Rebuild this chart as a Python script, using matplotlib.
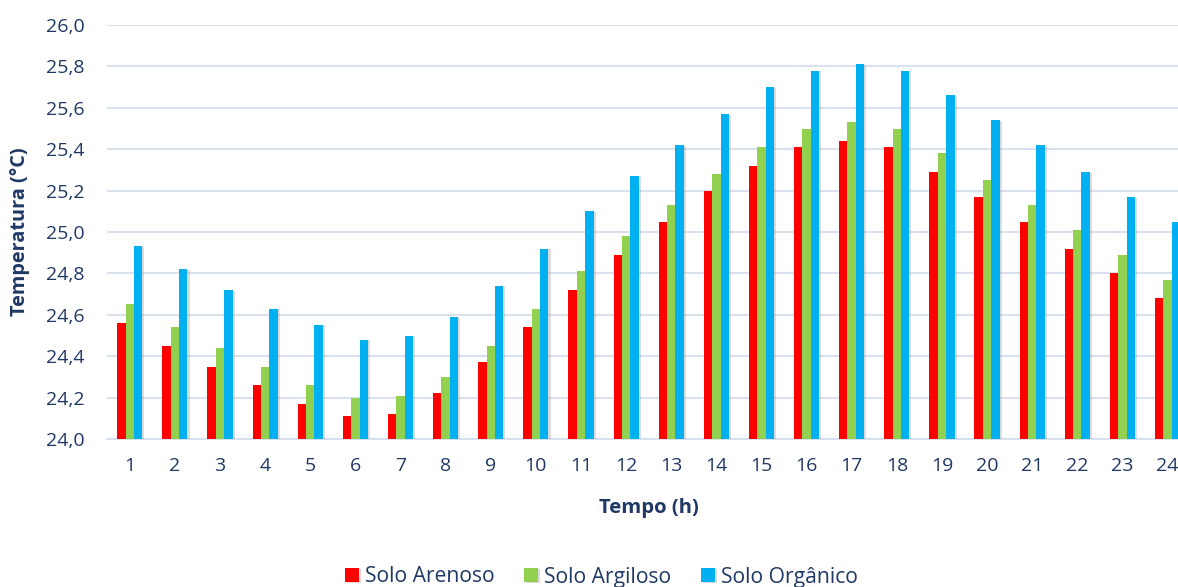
import numpy as np
import matplotlib
matplotlib.use("Agg")
import matplotlib.pyplot as plt
from matplotlib.ticker import FuncFormatter, MultipleLocator
import matplotlib.patheffects as pe

# Hourly soil temperature (°C) for three soil types
hours = list(range(1, 25))
solo_arenoso = [24.56, 24.45, 24.35, 24.26, 24.17, 24.11, 24.12, 24.22, 24.37, 24.54,
                24.72, 24.89, 25.05, 25.20, 25.32, 25.41, 25.44, 25.41, 25.29, 25.17,
                25.05, 24.92, 24.80, 24.68]
solo_argiloso = [24.65, 24.54, 24.44, 24.35, 24.26, 24.20, 24.21, 24.30, 24.45, 24.63,
                 24.81, 24.98, 25.13, 25.28, 25.41, 25.50, 25.53, 25.50, 25.38, 25.25,
                 25.13, 25.01, 24.89, 24.77]
solo_organico = [24.93, 24.82, 24.72, 24.63, 24.55, 24.48, 24.50, 24.59, 24.74, 24.92,
                 25.10, 25.27, 25.42, 25.57, 25.70, 25.78, 25.81, 25.78, 25.66, 25.54,
                 25.42, 25.29, 25.17, 25.05]
series_names = ["Solo Arenoso", "Solo Argiloso", "Solo Orgânico"]
series_colors = ["#FF0000", "#92D050", "#00B0F0"]

text_color = "#1F3864"
grid_color = "#D9E1EE"
font = "Open Sans"

W, H = 1178, 587
fig = plt.figure(figsize=(W / 100, H / 100), dpi=100)
# plot area runs past the right edge of the figure, so the last group is cut off
left_px, right_px, top_px, bottom_px = 107.2, 1190.1, 25, 439
ax = fig.add_axes([left_px / W, 1 - bottom_px / H,
                   (right_px - left_px) / W, (bottom_px - top_px) / H])

x = np.arange(len(hours))
width = 0.186
shadow = [pe.SimplePatchShadow(offset=(1.5, -0.5), shadow_rgbFace="#999999", alpha=0.35), pe.Normal()]
for i, (vals, name, col) in enumerate(zip([solo_arenoso, solo_argiloso, solo_organico],
                                           series_names, series_colors)):
    ax.bar(x + (i - 1) * width, vals, width=width, color=col, label=name,
           zorder=3, path_effects=shadow)

ax.set_xlim(-0.5, len(hours) - 0.5)
ax.set_ylim(24.0, 26.0)
ax.yaxis.set_major_locator(MultipleLocator(0.2))
ax.yaxis.set_major_formatter(FuncFormatter(lambda v, p: f"{v:.1f}".replace(".", ",")))
ax.set_xticks(x)
ax.set_xticklabels([str(h) for h in hours])

ax.grid(axis="y", color=grid_color, linewidth=1.5, zorder=0)
ax.set_axisbelow(True)
for s in ["top", "right", "left"]:
    ax.spines[s].set_visible(False)
ax.spines["bottom"].set_color(grid_color)
ax.spines["bottom"].set_linewidth(1.5)

ax.tick_params(axis="both", length=0, labelsize=14, labelcolor=text_color)
ax.tick_params(axis="x", pad=13)
ax.tick_params(axis="y", pad=16)
for lbl in ax.get_xticklabels() + ax.get_yticklabels():
    lbl.set_fontfamily(font)

ax.set_ylabel("Temperatura (°C)", fontsize=14.3, fontweight="bold", color=text_color,
              fontfamily=font)
ax.yaxis.set_label_coords((20 - left_px) / (right_px - left_px), 0.5)
ax.yaxis.label.set_verticalalignment("center")
ax.set_xlabel("Tempo (h)", fontsize=14.6, fontweight="bold", color=text_color,
              fontfamily=font)
ax.xaxis.set_label_coords((649 - left_px) / (right_px - left_px),
                          -(508 - bottom_px) / (bottom_px - top_px))
ax.xaxis.label.set_verticalalignment("center")

leg = fig.legend(loc="center", bbox_to_anchor=(601.5 / W, 1 - 577 / H), ncol=3,
                 frameon=False, prop={"family": font, "size": 15.2},
                 handlelength=0.65, handleheight=0.65, handletextpad=0.3,
                 columnspacing=1.4, borderpad=0)
for t in leg.get_texts():
    t.set_color(text_color)

fig.savefig("out.png", dpi=100)
